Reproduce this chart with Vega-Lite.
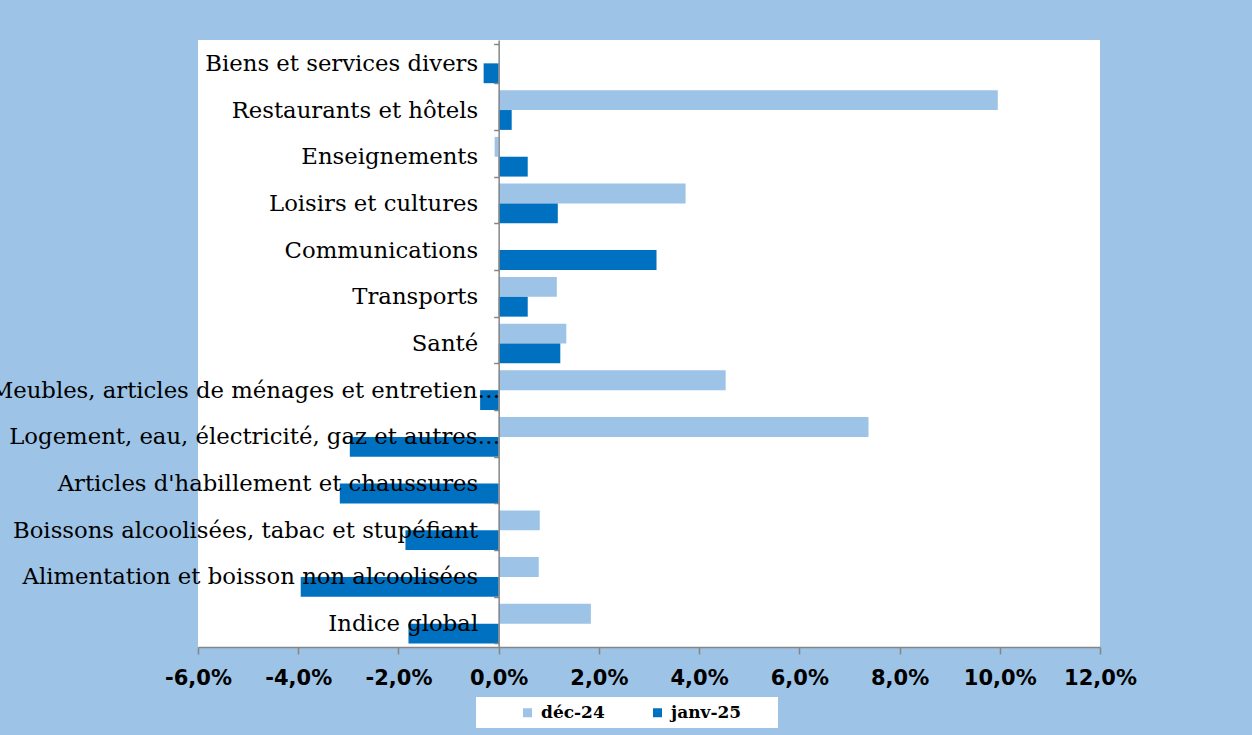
{
  "$schema": "https://vega.github.io/schema/vega-lite/v6.json",
  "width": 902,
  "height": 607,
  "autosize": {"type": "none"},
  "padding": {"left": 198, "top": 40, "right": 152, "bottom": 88},
  "background": "#9DC3E6",
  "config": {
    "view": {"fill": "white", "stroke": null},
    "axis": {"grid": false}
  },
  "data": {
    "values": [
      {"categorie": "Biens et services divers", "serie": "déc-24", "valeur": 0.0},
      {"categorie": "Biens et services divers", "serie": "janv-25", "valeur": -0.003},
      {"categorie": "Restaurants et hôtels", "serie": "déc-24", "valeur": 0.0996},
      {"categorie": "Restaurants et hôtels", "serie": "janv-25", "valeur": 0.0026},
      {"categorie": "Enseignements", "serie": "déc-24", "valeur": -0.0008},
      {"categorie": "Enseignements", "serie": "janv-25", "valeur": 0.0058},
      {"categorie": "Loisirs et cultures", "serie": "déc-24", "valeur": 0.0373},
      {"categorie": "Loisirs et cultures", "serie": "janv-25", "valeur": 0.0118},
      {"categorie": "Communications", "serie": "déc-24", "valeur": 0.0},
      {"categorie": "Communications", "serie": "janv-25", "valeur": 0.0315},
      {"categorie": "Transports", "serie": "déc-24", "valeur": 0.0116},
      {"categorie": "Transports", "serie": "janv-25", "valeur": 0.0058},
      {"categorie": "Santé", "serie": "déc-24", "valeur": 0.0135},
      {"categorie": "Santé", "serie": "janv-25", "valeur": 0.0123},
      {"categorie": "Meubles, articles de ménages et entretien…", "serie": "déc-24", "valeur": 0.0453},
      {"categorie": "Meubles, articles de ménages et entretien…", "serie": "janv-25", "valeur": -0.0037},
      {"categorie": "Logement, eau, électricité, gaz et autres…", "serie": "déc-24", "valeur": 0.0738},
      {"categorie": "Logement, eau, électricité, gaz et autres…", "serie": "janv-25", "valeur": -0.0297},
      {"categorie": "Articles d'habillement et chaussures", "serie": "déc-24", "valeur": 0.0},
      {"categorie": "Articles d'habillement et chaussures", "serie": "janv-25", "valeur": -0.0317},
      {"categorie": "Boissons alcoolisées, tabac et stupéfiant", "serie": "déc-24", "valeur": 0.0082},
      {"categorie": "Boissons alcoolisées, tabac et stupéfiant", "serie": "janv-25", "valeur": -0.0186},
      {"categorie": "Alimentation et boisson non alcoolisées", "serie": "déc-24", "valeur": 0.008},
      {"categorie": "Alimentation et boisson non alcoolisées", "serie": "janv-25", "valeur": -0.0395},
      {"categorie": "Indice global", "serie": "déc-24", "valeur": 0.0184},
      {"categorie": "Indice global", "serie": "janv-25", "valeur": -0.018}
    ]
  },
  "mark": {"type": "bar"},
  "encoding": {
    "y": {
      "field": "categorie",
      "type": "nominal",
      "sort": null,
      "scale": {"paddingInner": 0.15, "paddingOuter": 0.075},
      "axis": {
        "title": null,
        "orient": "left",
        "offset": -300.67,
        "zindex": 1,
        "domainColor": "#868686",
        "domainWidth": 1.5,
        "tickColor": "#868686",
        "tickWidth": 1.5,
        "tickSize": 5,
        "tickBand": "extent",
        "labelPadding": {"condition": {"test": "indexof(datum.label, '…') >= 0", "value": -6}, "value": 16},
        "labelFont": "DejaVu Serif",
        "labelFontSize": 22.75,
        "labelColor": "black",
        "labelLimit": 1000
      }
    },
    "yOffset": {
      "field": "serie",
      "type": "nominal",
      "sort": ["déc-24", "janv-25"],
      "scale": {"paddingInner": 0, "paddingOuter": 0}
    },
    "x": {
      "field": "valeur",
      "type": "quantitative",
      "scale": {"domain": [-0.06, 0.12], "nice": false, "zero": false},
      "axis": {
        "title": null,
        "zindex": 1,
        "values": [-0.06, -0.04, -0.02, 0, 0.02, 0.04, 0.06, 0.08, 0.1, 0.12],
        "labelExpr": "replace(replace(format(datum.value, '.1%'), '.', ','), '\u2212', '-')",
        "domainColor": "#868686",
        "domainWidth": 1.5,
        "tickColor": "#868686",
        "tickWidth": 1.5,
        "tickSize": 7,
        "labelPadding": 13,
        "labelFont": "DejaVu Sans",
        "labelFontWeight": "bold",
        "labelFontSize": 21,
        "labelColor": "black",
        "labelFlush": false,
        "labelOverlap": false
      }
    },
    "color": {
      "field": "serie",
      "type": "nominal",
      "scale": {"domain": ["déc-24", "janv-25"], "range": ["#9DC3E6", "#0070C0"]},
      "legend": {
        "orient": "none",
        "legendX": 278,
        "legendY": 657,
        "direction": "horizontal",
        "fillColor": "white",
        "padding": 7,
        "title": "\u00a0",
        "titleOrient": "left",
        "titlePadding": 36,
        "titleFontSize": 12,
        "symbolType": "square",
        "symbolSize": 81,
        "symbolStrokeWidth": 0,
        "labelFont": "DejaVu Serif",
        "labelFontWeight": "bold",
        "labelFontSize": 17,
        "labelColor": "black",
        "labelOffset": 5,
        "columnPadding": 14,
        "labelExpr": "datum.label + '\u00a0\u00a0\u00a0\u00a0\u00a0\u200b'"
      }
    }
  }
}
